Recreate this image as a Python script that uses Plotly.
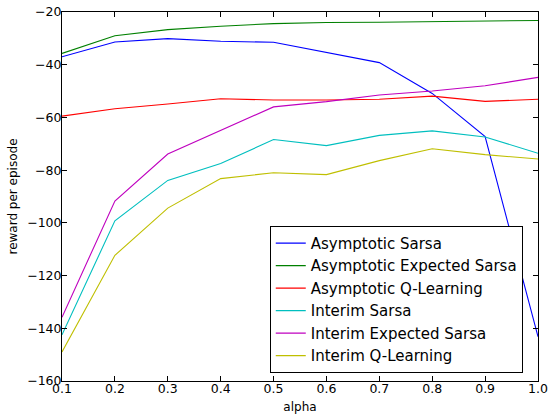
import plotly.graph_objects as go

alphas = [0.1, 0.2, 0.3, 0.4, 0.5, 0.6, 0.7, 0.8, 0.9, 1.0]
asym_sarsa = [-37.0, -31.4, -30.1, -31.1, -31.5, -35.3, -39.2, -50.9, -67.3, -143.2]
asym_exp_sarsa = [-35.7, -29.0, -26.7, -25.4, -24.4, -24.0, -23.9, -23.7, -23.4, -23.2]
asym_qlearning = [-59.5, -56.7, -54.9, -52.9, -53.4, -53.4, -53.1, -51.9, -53.9, -53.1]
interim_sarsa = [-142.5, -99.2, -83.9, -77.5, -68.4, -70.7, -66.8, -65.1, -67.4, -73.6]
interim_exp_sarsa = [-135.8, -91.7, -73.9, -64.8, -56.0, -54.0, -51.5, -50.0, -48.0, -44.8]
interim_qlearning = [-149.0, -112.3, -94.4, -83.2, -81.0, -81.7, -76.4, -71.9, -74.1, -75.8]

series = [
    ("Asymptotic Sarsa", asym_sarsa, "#0000ff"),
    ("Asymptotic Expected Sarsa", asym_exp_sarsa, "#008000"),
    ("Asymptotic Q-Learning", asym_qlearning, "#ff0000"),
    ("Interim Sarsa", interim_sarsa, "#00bfbf"),
    ("Interim Expected Sarsa", interim_exp_sarsa, "#bf00bf"),
    ("Interim Q-Learning", interim_qlearning, "#bfbf00"),
]

fig = go.Figure()
for name, vals, color in series:
    fig.add_trace(go.Scatter(x=alphas, y=vals, mode="lines", name=name,
                             line=dict(color=color, width=1.1)))

axis_common = dict(showline=True, linecolor="black", linewidth=1, mirror="ticks",
                   ticks="inside", ticklen=5, tickcolor="black", tickwidth=1,
                   showgrid=False, zeroline=False, automargin=False,
                   tickfont=dict(family="DejaVu Sans", size=12.5, color="black"))

fig.update_layout(
    width=550, height=414,
    margin=dict(l=62, r=12, t=12, b=33),
    paper_bgcolor="white", plot_bgcolor="white",
    font=dict(family="DejaVu Sans", color="black"),
    xaxis=dict(range=[0.1, 1.0], tickvals=alphas, tickformat=".1f", ticklabelstandoff=-4,
               title=dict(text="alpha", font=dict(size=12), standoff=8), **axis_common),
    yaxis=dict(range=[-160, -20], tickvals=[-160, -140, -120, -100, -80, -60, -40, -20],
               ticklabelstandoff=-3,
               title=dict(text="reward per episode", font=dict(size=12), standoff=6), **axis_common),
    legend=dict(x=0.968, y=0.022, xanchor="right", yanchor="bottom",
                bgcolor="white", bordercolor="black", borderwidth=1, itemwidth=30,
                font=dict(family="DejaVu Sans", size=15, color="black")),
)

# remove the browser's default page margin so the figure fills the window exactly
fig.write_html("out.html", config={"displayModeBar": False},
               post_script="document.body.style.margin='0';document.body.style.overflow='hidden';")
